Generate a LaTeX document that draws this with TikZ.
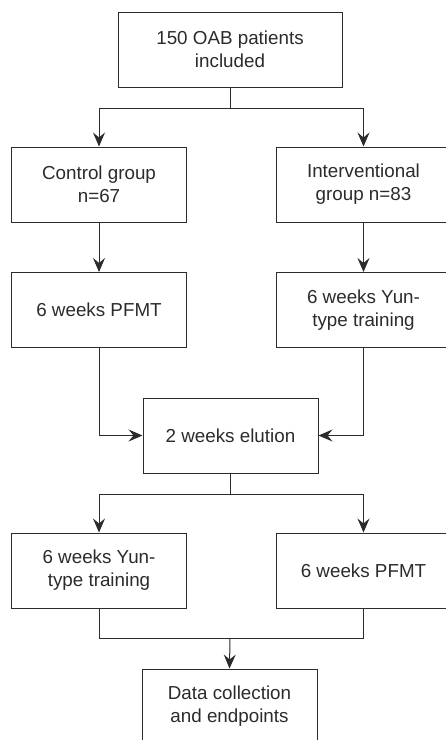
\documentclass[tikz,border=0pt]{standalone}
\usepackage{fontspec}
\setmainfont{Liberation Sans}
\usetikzlibrary{arrows.meta}
\definecolor{ink}{HTML}{2B2B2B}
\begin{document}
\begin{tikzpicture}[x=1pt,y=-1pt,
  box/.style={draw=ink,line width=1pt,text=ink,minimum width=175pt,minimum height=75pt,
    align=center,inner sep=0pt,font=\fontsize{18.8pt}{23pt}\selectfont},
  conn/.style={draw=ink,line width=1pt},
  arr/.style={conn,-{Stealth[length=14pt,width=12pt,inset=5pt]}}]
\useasboundingbox (0,0) rectangle (446,740);
\clip (0,0) rectangle (446,740);
\node[box,minimum width=224pt] (top) at (230,49.5) {150 OAB patients\\included};
\node[box] (ctrl) at (99,184.5) {Control group\\n=67};
\node[box] (intv) at (363.5,184.5) {Interventional\\group n=83};
\node[box] (pf1) at (99,310) {6 weeks PFMT};
\node[box] (yun1) at (363.5,310) {6 weeks Yun-\\type training};
\node[box] (elu) at (230.5,435.5) {2 weeks elution};
\node[box] (yun2) at (99,570.5) {6 weeks Yun-\\type training};
\node[box] (pf2) at (363.5,570.5) {6 weeks PFMT};
\node[box] (data) at (229.5,706.5) {Data collection\\and endpoints};
\coordinate (s1) at (230,108);
\coordinate (s2) at (230.5,494);
\coordinate (j) at (230,638);
\draw[conn] (top.south) -- (s1);
\draw[arr] (s1) -| (ctrl.north);
\draw[arr] (s1) -| (intv.north);
\draw[arr] (ctrl) -- (pf1);
\draw[arr] (intv) -- (yun1);
\draw[arr] (pf1.south) |- (elu.west);
\draw[arr] (yun1.south) |- (elu.east);
\draw[conn] (elu.south) -- (s2);
\draw[arr] (s2) -| (yun2.north);
\draw[arr] (s2) -| (pf2.north);
\draw[conn] (yun2.south) |- (j);
\draw[conn] (pf2.south) |- (j);
\draw[arr] (j) -- (data.north);
\end{tikzpicture}
\end{document}
